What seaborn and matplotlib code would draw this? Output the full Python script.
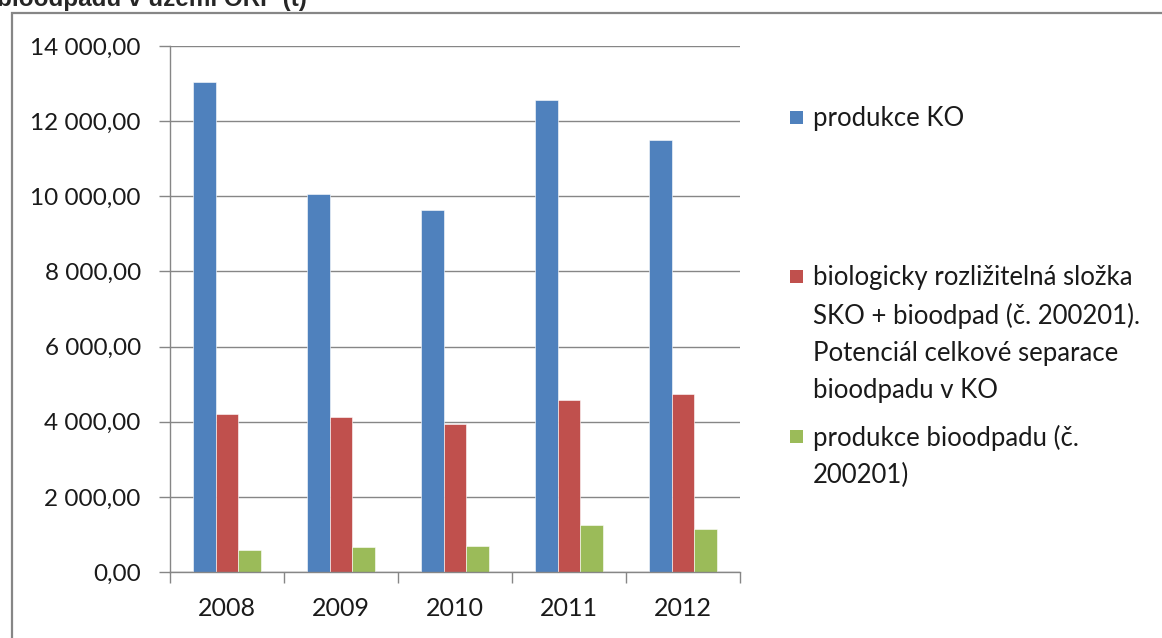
import matplotlib
matplotlib.use("Agg")
import matplotlib.pyplot as plt
import matplotlib.patches as mpatches
from matplotlib.ticker import FuncFormatter, FixedLocator
import seaborn as sns
import pandas as pd

years = ["2008", "2009", "2010", "2011", "2012"]
series = [
    "produkce KO",
    "biologicky rozližitelná složka\nSKO + bioodpad (č. 200201).\nPotenciál celkové separace\nbioodpadu v KO",
    "produkce bioodpadu (č.\n200201)",
]
produkce_ko = [13030, 10050, 9630, 12550, 11510]
bio_slozka = [4210, 4130, 3950, 4590, 4730]
produkce_bio = [580, 660, 690, 1250, 1140]
colors = ["#4F81BD", "#C0504D", "#9BBB59"]

df = pd.DataFrame({
    "rok": years * 3,
    "serie": [series[0]] * 5 + [series[1]] * 5 + [series[2]] * 5,
    "hodnota": produkce_ko + bio_slozka + produkce_bio,
})

sns.set_style("white")
plt.rcParams["font.family"] = ["Lato", "DejaVu Sans"]
W, H = 1162, 638
fig = plt.figure(figsize=(W / 100, H / 100), dpi=100)
ax = fig.add_axes([170 / W, 1 - 572 / H, 570 / W, 526 / H])

sns.barplot(data=df, x="rok", y="hodnota", hue="serie", palette=colors,
            width=0.6, ax=ax, legend=False, saturation=1,
            edgecolor="white", linewidth=0.4)

grid_c = "#868686"
txt_c = "#1a1a1a"
ax.set_ylim(0, 14000)
ax.set_xlim(-0.5, 4.5)
ax.set_yticks(range(0, 14001, 2000))
ax.yaxis.set_major_formatter(FuncFormatter(
    lambda v, p: f"{v:,.2f}".replace(",", " ").replace(".", ",")))
ax.grid(axis="y", color=grid_c, linewidth=1)
ax.set_axisbelow(True)
ax.set_xlabel("")
ax.set_ylabel("")
for s in ["top", "right"]:
    ax.spines[s].set_visible(False)
for s in ["left", "bottom"]:
    ax.spines[s].set_color(grid_c)
    ax.spines[s].set_linewidth(1)
ax.tick_params(axis="y", length=8, width=1, color=grid_c, labelsize=17.5,
               pad=13, labelcolor=txt_c, left=True)
ax.tick_params(axis="x", which="major", length=0, labelsize=18, pad=18,
               labelcolor=txt_c)
ax.xaxis.set_minor_locator(FixedLocator([-0.5, 0.5, 1.5, 2.5, 3.5, 4.5]))
ax.tick_params(axis="x", which="minor", length=8, width=1, color=grid_c,
               bottom=True)

# vnější rámeček grafu
fig.patches.append(mpatches.Rectangle(
    (12 / W, -0.1), 1.2, 1.1 - 13 / H, transform=fig.transFigure,
    fill=False, edgecolor=grid_c, linewidth=1.6))

fig.text(-0.003, 1 - 6 / H, "bioodpadu v území ORP (t)", fontsize=17.5,
         fontweight="bold", family=["Liberation Sans", "DejaVu Sans"],
         va="baseline", ha="left")

# legenda
leg_y = [118, 277, 437]
for lab, c, y in zip(series, colors, leg_y):
    fig.patches.append(mpatches.Rectangle(
        (790 / W, 1 - (y + 6) / H), 13 / W, 13 / H,
        transform=fig.transFigure, facecolor=c, edgecolor="none"))
    fig.text(813 / W, 1 - (y - 12) / H, lab, fontsize=18.5, va="top", ha="left",
             linespacing=1.6, color=txt_c)

fig.savefig("out.png", dpi=100)
